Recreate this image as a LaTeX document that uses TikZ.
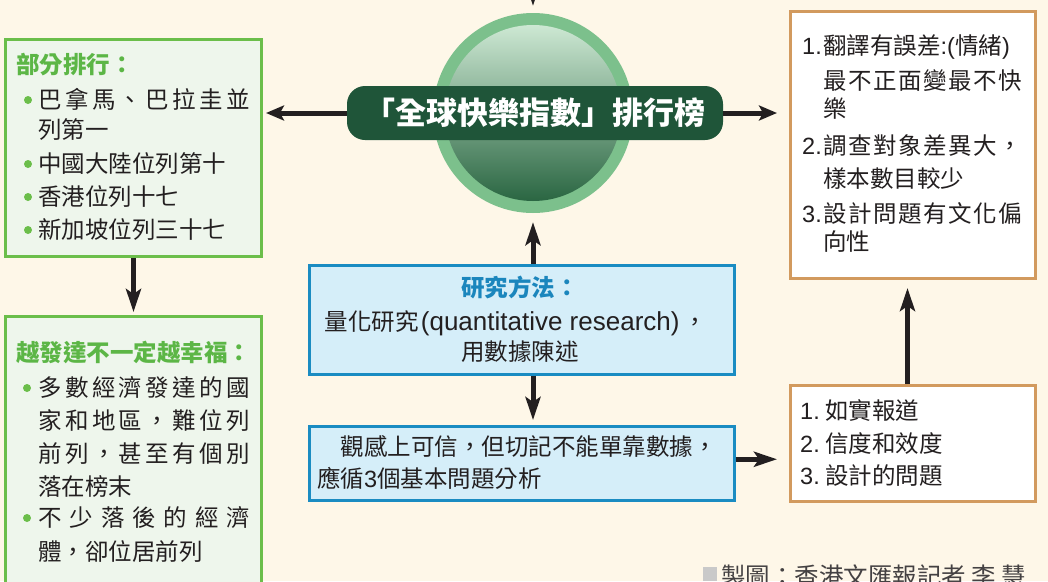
\documentclass[tikz,border=0pt]{standalone}
\usepackage{fontspec}
\setmainfont{Noto Sans CJK TC}
\newfontfamily\latinf{Liberation Sans}
\usetikzlibrary{arrows.meta}
\definecolor{bg}{HTML}{FEF7E8}
\definecolor{gborder}{HTML}{6BBE4A}
\definecolor{gfill}{HTML}{EEF6EC}
\definecolor{gtitle}{HTML}{5CB646}
\definecolor{bborder}{HTML}{1A8CC2}
\definecolor{bfill}{HTML}{D5EEF9}
\definecolor{btitle}{HTML}{1B86BD}
\definecolor{oborder}{HTML}{D29A5E}
\definecolor{txt}{HTML}{231F20}
\definecolor{ring}{HTML}{7CC08C}
\definecolor{inTop}{HTML}{CDE8D3}
\definecolor{inMid}{HTML}{8CC79C}
\definecolor{inBot}{HTML}{2A6642}
\definecolor{bannerc}{HTML}{1F5539}
\definecolor{credsq}{HTML}{C9C9C9}
\def\sprA#1#2{#1\ifx\relax#2\else\hfil\expandafter\sprA\expandafter#2\fi}
\newcommand\spr[2]{\hbox to #1{\sprA#2\relax}}
\tikzset{
  arr/.style={line width=5pt, draw=txt, -{Stealth[length=23pt,width=15pt,inset=5pt]}},
  barr/.style={line width=5pt, draw=txt, -{Stealth[length=18pt,width=15pt,inset=4pt]}},
  gbox/.style={rectangle, draw=gborder, fill=gfill, line width=3pt, inner sep=0pt, anchor=north west},
  bbox/.style={rectangle, draw=bborder, fill=bfill, line width=2.5pt, inner sep=0pt, anchor=north west},
  obox/.style={rectangle, draw=oborder, fill=white, line width=3pt, inner sep=0pt, anchor=north west},
  tx/.style={inner sep=0pt, anchor=base west, text=txt, font=\fontsize{23.5}{28}\selectfont},
  txc/.style={tx, anchor=base},
  gt/.style={tx, text=gtitle, font=\fontsize{23.5}{28}\selectfont\bfseries},
  bt/.style={txc, text=btitle, font=\fontsize{23.5}{28}\selectfont\bfseries},
  dot/.style={circle, fill=gborder, inner sep=0pt, minimum size=8pt},
}
\begin{document}
\begin{tikzpicture}[x=1pt,y=-1pt]
\useasboundingbox (0,0) rectangle (1048,581);
\clip (0,0) rectangle (1048,581);
\fill[bg] (0,0) rectangle (1048,581);

% boxes
\node[gbox, minimum width=256pt, minimum height=217pt] (tl) at (4,38) {};
\node[gbox, minimum width=256pt, minimum height=290pt] (bl) at (4,315) {};
\node[bbox, minimum width=425pt, minimum height=109pt] (res) at (308,264) {};
\node[bbox, minimum width=425pt, minimum height=74pt] (obs) at (308,425) {};
\node[obox, minimum width=245pt, minimum height=116pt] (rb) at (789,384) {};
\node[obox, minimum width=245pt, minimum height=267pt] (rt) at (789,10) {};

% central circle and banner
\node[circle, fill=ring, minimum size=200pt, inner sep=0pt] (circ) at (533,113) {};
\node[circle, minimum size=176pt, inner sep=0pt, top color=inTop, middle color=inMid, bottom color=inBot] (circin) at (circ.center) {};
\node[fill=bannerc, rounded corners=18pt, minimum width=376pt, minimum height=54pt, inner sep=0pt, text=white, font=\fontsize{31}{34}\selectfont\bfseries] (ban) at (535,113) {「全球快樂指數」排行榜};

% arrows
\coordinate (topin) at (533,-40);
\draw[arr] (topin) -- ([yshift=7pt]circ.north);
\draw[barr] (ban.west) -- ([xshift=3pt]tl.east |- ban.west);
\draw[barr] (ban.east) -- ([xshift=-12pt]rt.west |- ban.east);
\draw[arr] (res.north -| circ.center) -- ([yshift=-9pt]circ.south);
\draw[arr] (res.south -| circ.center) -- ([yshift=5pt]obs.north -| circ.center);
\draw[arr] ([yshift=4pt]obs.east) -- ([xshift=-12pt,yshift=4pt]rb.west |- obs.east);
\draw[arr] ([xshift=-5.5pt]rb.north) -- ([xshift=-5.5pt,yshift=-8pt]rt.south);
\draw[arr] (tl.south) -- ([yshift=3pt]bl.north);

% top-left box text
\node[gt] (tlT) at (16,73.8) {部分排行：};
\node[dot] (d1) at (28,100) {};
\node[tx] (tl1) at (38,108.8) {\spr{212pt}{巴拿馬、巴拉圭並}};
\node[tx] (tl2) at (38,138.8) {列第一};
\node[dot] (d2) at (28,164) {};
\node[tx] (tl3) at (38,172.8) {中國大陸位列第十};
\node[dot] (d3) at (28,197) {};
\node[tx] (tl4) at (38,205.8) {香港位列十七};
\node[dot] (d4) at (28,230) {};
\node[tx] (tl5) at (38,238.8) {新加坡位列三十七};

% bottom-left box text
\node[gt] (blT) at (16,361.8) {越發達不一定越幸福：};
\node[dot] (d5) at (27,388) {};
\node[tx] (bl1) at (38,396.8) {\spr{212pt}{多數經濟發達的國}};
\node[tx] (bl2) at (38,429.8) {\spr{212pt}{家和地區，難位列}};
\node[tx] (bl3) at (38,462.8) {\spr{212pt}{前列，甚至有個別}};
\node[tx] (bl4) at (38,495.8) {落在榜末};
\node[dot] (d6) at (27,518) {};
\node[tx] (bl5) at (38,526.8) {\spr{212pt}{不少落後的經濟}};
\node[tx] (bl6) at (38,560.8) {體，卻位居前列};

% research box text
\node[bt] (resT) at (520,296.8) {研究方法：};
\node[txc] (res1) at (516,330.8) {量化研究\kern2pt{\latinf\fontsize{26}{28}\selectfont(quantitative research)}\kern4pt，};
\node[txc] (res2) at (520,360.8) {用數據陳述};

% observation box text
\node[tx] (obs1) at (317,455.8) {　觀感上可信，但切記不能單靠數據，};
\node[tx] (obs2) at (317,487.8) {應循{\latinf 3}個基本問題分析};

% right-bottom box text
\node[tx] (rb1) at (800,419.8) {{\latinf 1.}\ 如實報道};
\node[tx] (rb2) at (800,452.8) {{\latinf 2.}\ 信度和效度};
\node[tx] (rb3) at (800,484.8) {{\latinf 3.}\ 設計的問題};

% right-top box text
\node[tx] (rtn1) at (802,54.8) {\latinf 1.};
\node[tx] (rt1) at (823,54.8) {翻譯有誤差{\latinf :(}情緒{\latinf )}};
\node[tx] (rt2) at (823,89.8) {\spr{199pt}{最不正面變最不快}};
\node[tx] (rt3) at (823,117.8) {樂};
\node[tx] (rtn2) at (802,154.8) {\latinf 2.};
\node[tx] (rt4) at (823,154.8) {\spr{199pt}{調查對象差異大，}};
\node[tx] (rt5) at (823,187.8) {樣本數目較少};
\node[tx] (rtn3) at (802,222.8) {\latinf 3.};
\node[tx] (rt6) at (823,222.8) {\spr{199pt}{設計問題有文化偏}};
\node[tx] (rt7) at (823,250.8) {向性};

% credit
\node[fill=credsq, inner sep=0pt, minimum size=14pt, anchor=north west] (cred) at (703,567) {};
\node[tx, text=txt!85, font=\fontsize{24.5}{28}\selectfont] (credT) at (721,585.5) {製圖：香港文匯報記者 李 慧};
\end{tikzpicture}
\end{document}
